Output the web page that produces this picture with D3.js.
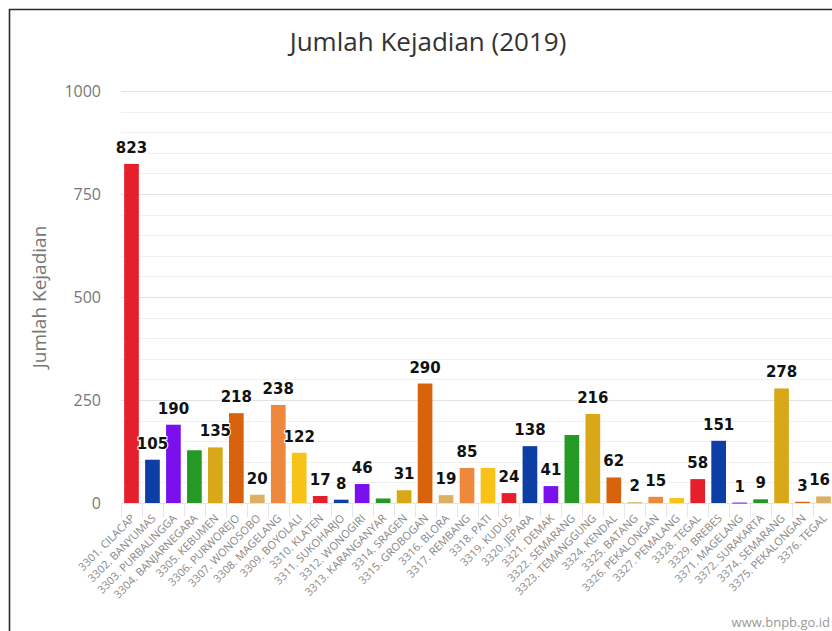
<!DOCTYPE html>
<html>
<head>
<meta charset="utf-8">
<script src="https://cdn.jsdelivr.net/npm/d3@7/dist/d3.min.js"></script>
<style>
  html, body { margin: 0; padding: 0; background: #fff; }
  svg { display: block; }
</style>
</head>
<body>
<svg id="chart" width="832" height="631"></svg>
<script>
const categories = [
  "3301. CILACAP", "3302. BANYUMAS", "3303. PURBALINGGA", "3304. BANJARNEGARA",
  "3305. KEBUMEN", "3306. PURWOREJO", "3307. WONOSOBO", "3308. MAGELANG",
  "3309. BOYOLALI", "3310. KLATEN", "3311. SUKOHARJO", "3312. WONOGIRI",
  "3313. KARANGANYAR", "3314. SRAGEN", "3315. GROBOGAN", "3316. BLORA",
  "3317. REMBANG", "3318. PATI", "3319. KUDUS", "3320. JEPARA",
  "3321. DEMAK", "3322. SEMARANG", "3323. TEMANGGUNG", "3324. KENDAL",
  "3325. BATANG", "3326. PEKALONGAN", "3327. PEMALANG", "3328. TEGAL",
  "3329. BREBES", "3371. MAGELANG", "3372. SURAKARTA", "3374. SEMARANG",
  "3375. PEKALONGAN", "3376. TEGAL"
];
const values = [
  823, 105, 190, 128,
  135, 218, 20, 238,
  122, 17, 8, 46,
  11, 31, 290, 19,
  85, 85, 24, 138,
  41, 165, 216, 62,
  2, 15, 12, 58,
  151, 1, 9, 278,
  3, 16
];
// data labels that the original chart hides because they overlap neighbours
const hiddenLabels = ["3304. BANJARNEGARA", "3313. KARANGANYAR", "3318. PATI", "3322. SEMARANG", "3327. PEMALANG"];
const palette = ["#e61f2c", "#0c3ea6", "#7a10ee", "#249a24", "#d8a818", "#d8630c", "#d9b064", "#ee883c", "#f9c218"];
const yTicks = [0, 250, 500, 750, 1000];
const yMinorStep = 50;
const yMax = 1000;
const title = "Jumlah Kejadian (2019)";
const yTitle = "Jumlah Kejadian";
const credit = "www.bnpb.go.id";

const svg = d3.select("#chart");
const plotLeft = 121, plotRight = 834, plotTop = 91, plotBottom = 503;

const x = d3.scaleBand().domain(categories).range([plotLeft, plotRight])
  .paddingInner(0.3).paddingOuter(0.15);
const y = d3.scaleLinear().domain([0, yMax]).range([plotBottom, plotTop]);

// frame border
svg.append("path")
  .attr("d", `M9.5,631 L9.5,9.5 L832,9.5`)
  .attr("fill", "none").attr("stroke", "#2a2a2a").attr("stroke-width", 1.6);

// title
svg.append("text").attr("x", 428).attr("y", 51)
  .attr("text-anchor", "middle")
  .attr("font-family", "'Open Sans', sans-serif").attr("font-size", 26)
  .attr("fill", "#333").text(title);

// minor grid
const minor = d3.range(0, yMax + 1, yMinorStep).filter(v => !yTicks.includes(v));
svg.append("g").selectAll("line").data(minor).join("line")
  .attr("x1", plotLeft).attr("x2", 832)
  .attr("y1", d => Math.round(y(d)) + 0.5).attr("y2", d => Math.round(y(d)) + 0.5)
  .attr("stroke", "#f0f0f0").attr("stroke-width", 1);

// y axis with major grid
const yAxis = d3.axisLeft(y).tickValues(yTicks).tickSize(-(832 - plotLeft)).tickPadding(20).tickFormat(d3.format("d"));
const gy = svg.append("g").attr("transform", `translate(${plotLeft},0)`).call(yAxis);
gy.select(".domain").remove();
gy.selectAll(".tick line").attr("stroke", "#e2e2e2");
gy.selectAll(".tick text")
  .attr("font-family", "'Open Sans', sans-serif").attr("font-size", 16)
  .attr("fill", "#777").attr("dy", "0.36em");

// y title
svg.append("text").attr("transform", "translate(46,297) rotate(-90)")
  .attr("text-anchor", "middle")
  .attr("font-family", "'Open Sans', sans-serif").attr("font-size", 19)
  .attr("fill", "#777").text(yTitle);

// x axis
const step = x.step();
const gx = svg.append("g");
gx.append("line").attr("x1", plotLeft).attr("x2", 832)
  .attr("y1", plotBottom + 0.5).attr("y2", plotBottom + 0.5).attr("stroke", "#dfe3ec");
gx.selectAll("line.tk").data(categories).join("line").attr("class", "tk")
  .attr("x1", d => Math.round(x(d) - step * x.paddingInner() / 2) + 0.5)
  .attr("x2", d => Math.round(x(d) - step * x.paddingInner() / 2) + 0.5)
  .attr("y1", plotBottom).attr("y2", plotBottom + 14)
  .attr("stroke", "#e3e6ee");
gx.selectAll("text").data(categories).join("text")
  .attr("transform", d => `translate(${x(d) + x.bandwidth() / 2 + 4},${plotBottom + 16}) rotate(-45)`)
  .attr("text-anchor", "end")
  .attr("font-family", "'Open Sans', sans-serif").attr("font-size", 11)
  .attr("fill", "#888").text(d => d);

// bars
const data = categories.map((c, i) => ({ c, v: values[i], color: palette[i % palette.length] }));
svg.append("g").selectAll("rect").data(data).join("rect")
  .attr("x", d => x(d.c)).attr("width", x.bandwidth())
  .attr("y", d => y(d.v)).attr("height", d => Math.max(1, y(0) - y(d.v)))
  .attr("fill", d => d.color);

// data labels (kept inside the visible area, like the original's justify)
svg.append("g").selectAll("text").data(data.filter(d => !hiddenLabels.includes(d.c))).join("text")
  .attr("x", d => x(d.c) + x.bandwidth() / 2)
  .attr("y", d => y(d.v) - 11)
  .attr("text-anchor", "middle")
  .attr("font-family", "'DejaVu Sans', sans-serif").attr("font-weight", "bold").attr("font-size", 15)
  .attr("fill", "#111")
  .attr("stroke", "#fff").attr("stroke-width", 2).attr("paint-order", "stroke")
  .text(d => d.v)
  .each(function (d) {
    const w = this.getComputedTextLength();
    const cx = x(d.c) + x.bandwidth() / 2;
    const maxRight = 830;
    if (cx + w / 2 > maxRight) d3.select(this).attr("x", maxRight - w / 2);
  });

// credit
svg.append("text").attr("x", 830).attr("y", 627).attr("text-anchor", "end")
  .attr("font-family", "'Open Sans', sans-serif").attr("font-size", 13)
  .attr("fill", "#999").text(credit);
</script>
</body>
</html>
